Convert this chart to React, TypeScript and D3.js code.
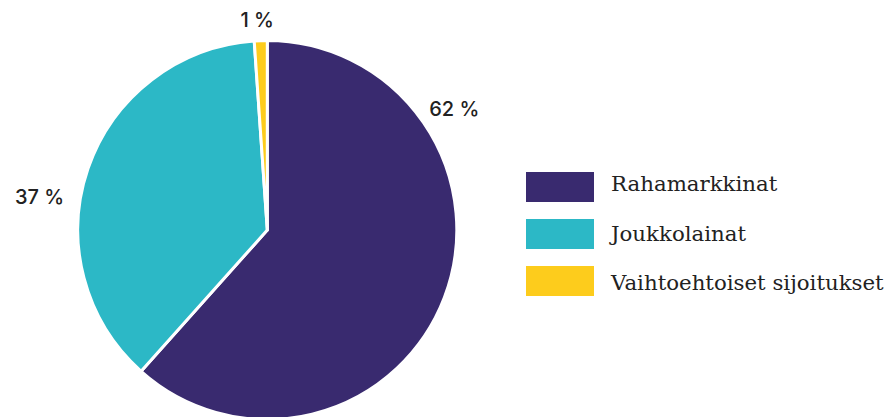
import React from "react";
import * as d3 from "d3";

const categories = ["Rahamarkkinat", "Joukkolainat", "Vaihtoehtoiset sijoitukset"];
const values = [61.6, 37.3, 1.1];
const labels = ["62 %", "37 %", "1 %"];
const colors = ["#392a6f", "#2cb8c6", "#fdcc1c"];

const W = 885;
const H = 417;

export default function App() {
  const cx = 267.3;
  const cy = 230;
  const r = 189.5;
  const pie = d3.pie<number>().sort(null).value((d) => d);
  const arcs = pie(values);
  const arc = d3.arc<d3.PieArcDatum<number>>().innerRadius(0).outerRadius(r);
  const labelFrac = [0.257, 0.42, 0.3];
  const labelDist = [223, 230, 210];

  return (
    <svg width={W} height={H} style={{ position: "absolute", left: 0, top: 0, background: "#fff" }}>
      <g transform={`translate(${cx},${cy})`}>
        {arcs.map((a, i) => (
          <path key={i} d={arc(a) || ""} fill={colors[i]} stroke="#fff" strokeWidth={3} strokeLinejoin="round" />
        ))}
        {arcs.map((a, i) => {
          const ang = a.startAngle + (a.endAngle - a.startAngle) * labelFrac[i];
          const x = Math.sin(ang) * labelDist[i];
          const y = -Math.cos(ang) * labelDist[i];
          return (
            <text
              key={i}
              x={x}
              y={y}
              textAnchor="middle"
              dominantBaseline="central"
              fontFamily="Inter, sans-serif"
              fontWeight={500}
              fontSize={20}
              fill="#222"
            >
              {labels[i]}
            </text>
          );
        })}
      </g>
      <g transform="translate(526,172)">
        {categories.map((c, i) => (
          <g key={c}>
            <rect y={i * 47} width={68} height={30} fill={colors[i]} />
            <text
              x={85}
              y={19 + i * 49.5}
              fontFamily="'DejaVu Serif', serif"
              fontSize={21.3}
              fill="#222"
            >
              {c}
            </text>
          </g>
        ))}
      </g>
    </svg>
  );
}
